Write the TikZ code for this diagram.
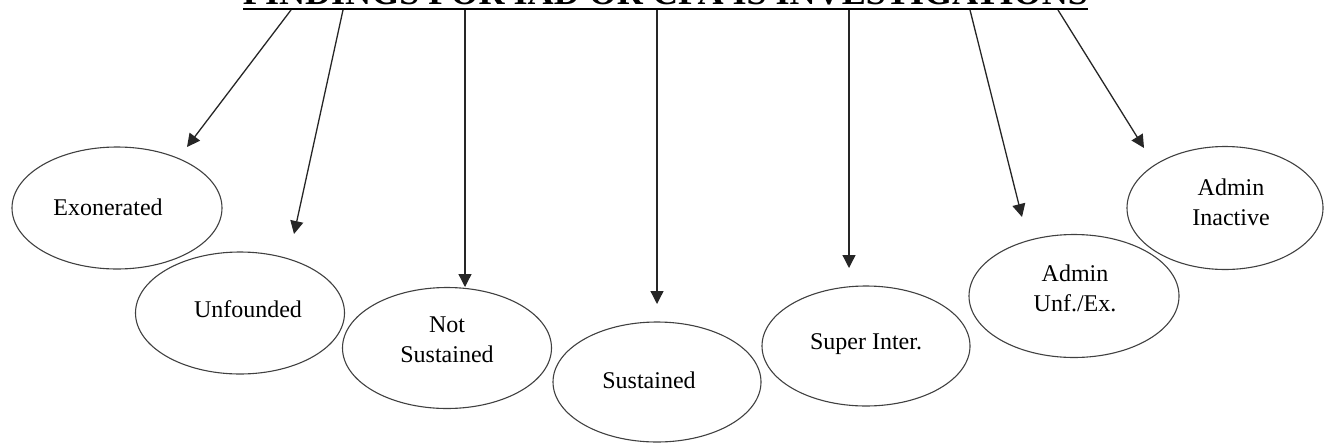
\documentclass[tikz,border=0pt]{standalone}
\usepackage{fontspec}
\setmainfont{Liberation Serif}
\usetikzlibrary{arrows.meta,shapes.geometric}
\tikzset{
  ell/.style={draw=black!75, line width=1.1pt, ellipse},
  lbl/.style={font=\fontsize{24}{30}\selectfont, align=center, inner sep=0pt},
  conn/.style={draw=black!85, line width=1.3pt, -{Triangle[length=13pt,width=13pt]}},
}
\begin{document}
\begin{tikzpicture}[x=1pt,y=-1pt]
\useasboundingbox (0,0) rectangle (1324,442);
\clip (0,0) rectangle (1324,442);
% title
\node[anchor=base, inner sep=0pt] (title) at (665.5,4.5)
  {\resizebox{845pt}{!}{\fontsize{36}{40}\selectfont\bfseries FINDINGS FOR IAD OR CPA IS INVESTIGATIONS}};
\draw[line width=2.8pt] (243,9) coordinate (ul) -- (1088,9) coordinate (ur);
% start points on the underline
\coordinate (s1) at (291,10);
\coordinate (s2) at (343,10);
\coordinate (s3) at (465,10);
\coordinate (s4) at (657,10);
\coordinate (s5) at (849,10);
\coordinate (s6) at (970,10);
\coordinate (s7) at (1058,10);
% arrow tips
\coordinate (e1) at (187,147);
\coordinate (e2) at (294,234);
\coordinate (e3) at (465,287);
\coordinate (e4) at (657,304);
\coordinate (e5) at (849,268);
\coordinate (e6) at (1022,217);
\coordinate (e7) at (1144,148);
% ellipses
\node[ell, minimum width=210pt, minimum height=122pt] (exo) at (117,208) {};
\node[ell, minimum width=209pt, minimum height=122pt] (unf) at (240,313) {};
\node[ell, minimum width=209pt, minimum height=121pt] (nots) at (447,348) {};
\node[ell, minimum width=208pt, minimum height=120pt] (sus) at (657,382) {};
\node[ell, minimum width=208pt, minimum height=120pt] (sup) at (866,346) {};
\node[ell, minimum width=210pt, minimum height=123pt] (aue) at (1074,296) {};
\node[ell, minimum width=196pt, minimum height=123pt] (ain) at (1225,208) {};
% labels
\node[lbl] (texo) at (108,207) {Exonerated};
\node[lbl] (tunf) at (248,309) {Unfounded};
\node[lbl] (tnots) at (447,340) {Not\\Sustained};
\node[lbl] (tsus) at (649,380) {Sustained};
\node[lbl] (tsup) at (866,344) {Super Inter.};
\node[lbl] (taue) at (1075,288) {Admin\\Unf./Ex.};
\node[lbl] (tain) at (1231,202) {Admin\\Inactive};
% connectors
\draw[conn] (s1) -- (e1);
\draw[conn] (s2) -- (e2);
\draw[conn] (s3) -- (e3);
\draw[conn] (s4) -- (e4);
\draw[conn] (s5) -- (e5);
\draw[conn] (s6) -- (e6);
\draw[conn] (s7) -- (e7);
\end{tikzpicture}
\end{document}
